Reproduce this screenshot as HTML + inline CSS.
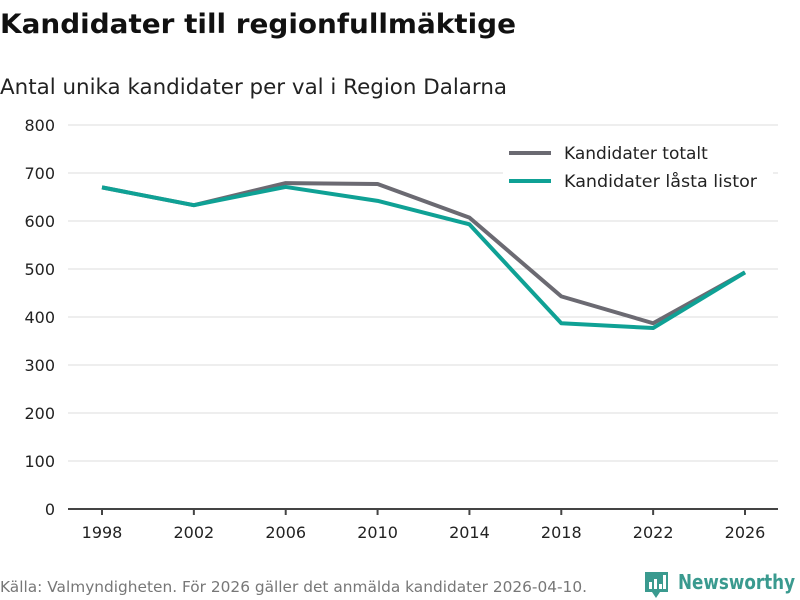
<!DOCTYPE html>
<html><head><meta charset="utf-8"><style>
body{margin:0;background:#fff;font-family:"DejaVu Sans","Liberation Sans",sans-serif;}
</style></head><body>
<svg width="800" height="600" xmlns="http://www.w3.org/2000/svg" style="display:block">
<text x="0" y="33" font-size="27" font-weight="bold" fill="#111" textLength="516" lengthAdjust="spacingAndGlyphs">Kandidater till regionfullmäktige</text>
<text x="0" y="94" font-size="21" fill="#222" textLength="507" lengthAdjust="spacingAndGlyphs">Antal unika kandidater per val i Region Dalarna</text>
<g id="grid"></g>
<g id="yt"></g>
<g id="xt"></g>
<g id="lines"></g>
<g>
<rect x="503" y="140" width="270" height="60" fill="#fff"/>
<g><line x1="509" y1="153" x2="551" y2="153" stroke="#6b6a72" stroke-width="4"/><text x="564" y="159" font-size="17" fill="#222">Kandidater totalt</text></g>
<g><line x1="509" y1="181" x2="551" y2="181" stroke="#0fa195" stroke-width="4"/><text x="564" y="187" font-size="17" fill="#222" textLength="193" lengthAdjust="spacingAndGlyphs">Kandidater låsta listor</text></g>
</g>
<text x="0" y="592" font-size="15" fill="#777" textLength="587" lengthAdjust="spacingAndGlyphs">Källa: Valmyndigheten. För 2026 gäller det anmälda kandidater 2026-04-10.</text>
<g>
<path d="M645 572h23v20h-8l-4 6-4-6h-7z" fill="#3a9a8f"/>
<rect x="649" y="582" width="3" height="7" fill="#fff"/><rect x="654" y="579" width="3" height="10" fill="#fff"/><rect x="659" y="584" width="3" height="5" fill="#fff"/><rect x="663" y="575" width="3" height="14" fill="#fff"/>
<text x="678" y="589" font-size="20" font-weight="bold" fill="#3a9a8f" textLength="117" lengthAdjust="spacingAndGlyphs">Newsworthy</text>
</g>
</svg>
<script>
const years=[1998,2002,2006,2010,2014,2018,2022,2026];
const yTicks=[0,100,200,300,400,500,600,700,800];
const totalt=[670,633,679,677,607,443,387,493];
const lasta=[670,633,671,642,593,387,377,493];
const NS='http://www.w3.org/2000/svg';
function xs(v){return 102+(v-1998)/28*643;}
function ys(v){return 509-v*0.48;}
function mk(t,a,p){const e=document.createElementNS(NS,t);for(const k in a)e.setAttribute(k,a[k]);p.appendChild(e);return e;}
const g=document.getElementById('grid'),yt=document.getElementById('yt'),xt=document.getElementById('xt'),L=document.getElementById('lines');
yTicks.forEach(v=>{if(v>0){const l=mk('line',{x1:68,x2:778,y1:ys(v),y2:ys(v),stroke:'#ddd','stroke-width':1},g);

}
const t=mk('text',{x:55,y:ys(v)+6,'text-anchor':'end','font-size':16,fill:'#222'},yt);t.textContent=v;

});
const ax=mk('line',{x1:68,x2:778,y1:509,y2:509,stroke:'#444','stroke-width':2},xt);


years.forEach(v=>{mk('line',{x1:xs(v),x2:xs(v),y1:509,y2:515,stroke:'#444','stroke-width':2},xt);
const t=mk('text',{x:xs(v),y:538,'text-anchor':'middle','font-size':16,fill:'#222'},xt);t.textContent=v;

});
function line(d,c,n){const p=mk('polyline',{points:d.map((v,i)=>xs(years[i])+','+ys(v)).join(' '),fill:'none',stroke:c,'stroke-width':4,'stroke-linejoin':'round'},L);

}
line(totalt,'#6b6a72','line-kandidater-totalt');
line(lasta,'#0fa195','line-kandidater-lasta-listor');
</script>
</body></html>
